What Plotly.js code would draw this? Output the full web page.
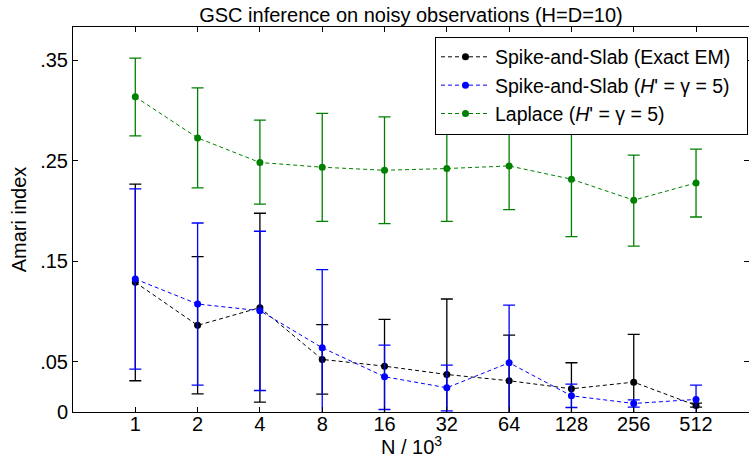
<!DOCTYPE html>
<html>
<head>
<meta charset="utf-8">
<script src="https://cdn.plot.ly/plotly-3.0.1.min.js"></script>
<style>html,body{margin:0;padding:0;background:#fff;}#chart{width:749px;height:454px;}</style>
</head>
<body>
<div id="chart"></div>
<script>
// Category labels (N / 10^3)
var nLabels = ['1', '2', '4', '8', '16', '32', '64', '128', '256', '512'];

// Spike-and-Slab (Exact EM)
var exactMean  = [0.129, 0.0862, 0.1038, 0.0523, 0.0456, 0.0373, 0.0311, 0.0231, 0.0297, 0.0065];
var exactUpper = [0.2266, 0.1546, 0.1977, 0.0869, 0.0921, 0.1124, 0.0765, 0.0490, 0.0772, 0.0088];
var exactLower = [0.0311, 0.0181, 0.0098, 0.0177, -0.001, -0.038, -0.014, -0.003, -0.018, 0.0048];

// Spike-and-Slab (H' = gamma = 5)
var gscMean  = [0.1323, 0.1074, 0.1008, 0.0639, 0.0351, 0.0241, 0.0490, 0.0161, 0.0085, 0.0125];
var gscUpper = [0.2220, 0.1880, 0.1798, 0.1416, 0.0665, 0.0466, 0.1064, 0.0277, 0.0121, 0.0267];
var gscLower = [0.0427, 0.0267, 0.0214, -0.014, 0.0025, 0.0012, -0.008, 0.0045, 0.0048, -0.0012];

// Laplace (H' = gamma = 5)
var lapMean  = [0.3135, 0.2727, 0.2482, 0.2435, 0.2405, 0.2422, 0.2448, 0.2316, 0.2107, 0.2279];
var lapUpper = [0.3520, 0.3225, 0.2903, 0.2970, 0.2936, 0.2946, 0.2886, 0.2896, 0.2555, 0.2615];
var lapLower = [0.2747, 0.2229, 0.2067, 0.1897, 0.1874, 0.1897, 0.2014, 0.1745, 0.1651, 0.1940];

// Y tick labels
var yTickVals = [0, 0.05, 0.15, 0.25, 0.35];
var yTickText = ['0', '.05', '.15', '.25', '.35'];

var xIdx = nLabels.map(function (_, i) { return i; });

function mk(name, mean, up, lo, color) {
  return {
    type: 'scatter', mode: 'lines+markers', name: name,
    x: xIdx, y: mean,
    line: {color: color, width: 1, dash: '4px,3px'},
    marker: {color: color, size: 7},
    error_y: {
      type: 'data', symmetric: false,
      array: up.map(function (u, i) { return u - mean[i]; }),
      arrayminus: lo.map(function (l, i) { return mean[i] - l; }),
      color: color, thickness: 1.3, width: 6
    }
  };
}

var traces = [
  mk('Spike-and-Slab (Exact EM)\u00a0\u00a0', exactMean, exactUpper, exactLower, '#000000'),
  mk("Spike-and-Slab (<i>H</i>' = \u03b3 = 5)", gscMean, gscUpper, gscLower, '#0000ff'),
  mk("Laplace (<i>H</i>' = \u03b3 = 5)", lapMean, lapUpper, lapLower, '#008000')
];

var FONT = 'Liberation Sans, Arial, Helvetica, sans-serif';

var layout = {
  width: 749, height: 454,
  margin: {l: 73, r: 0, t: 27, b: 42, pad: 0},
  paper_bgcolor: '#ffffff', plot_bgcolor: '#ffffff',
  font: {family: FONT, size: 20, color: '#000'},
  showlegend: true,
  title: {
    text: 'GSC inference on noisy observations (H=D=10)',
    font: {family: FONT, size: 20, color: '#000'},
    x: 0.5, xref: 'paper', xanchor: 'center',
    y: 1 - 15 / 454, yref: 'container', yanchor: 'middle'
  },
  xaxis: {
    range: [-1, 9.85],
    tickmode: 'array', tickvals: xIdx, ticktext: nLabels,
    ticks: 'inside', ticklen: 5, tickcolor: '#000', tickwidth: 1,
    ticklabelstandoff: -6,
    showline: true, linecolor: '#000', linewidth: 1, mirror: 'ticks',
    showgrid: false, zeroline: false,
    tickfont: {family: FONT, size: 20, color: '#000'}
  },
  yaxis: {
    range: [0, 0.383],
    tickmode: 'array', tickvals: yTickVals, ticktext: yTickText,
    ticks: 'inside', ticklen: 5, tickcolor: '#000', tickwidth: 1,
    showline: true, linecolor: '#000', linewidth: 1, mirror: 'ticks',
    showgrid: false, zeroline: false,
    tickfont: {family: FONT, size: 20, color: '#000'},
    title: {text: 'Amari index', font: {family: FONT, size: 20, color: '#000'}, standoff: 8}
  },
  annotations: [{
    text: 'N / 10<sup>3</sup>', showarrow: false,
    xref: 'paper', x: 0.5, xanchor: 'center',
    yref: 'paper', y: -33 / 384.7, yanchor: 'middle',
    font: {family: FONT, size: 20, color: '#000'}
  }],
  legend: {
    x: 0.9985, xanchor: 'right', y: 0.975, yanchor: 'top',
    bgcolor: '#ffffff', bordercolor: '#000', borderwidth: 1,
    font: {family: FONT, size: 19.5, color: '#000'},
    tracegroupgap: 0, itemwidth: 49
  }
};

Plotly.newPlot('chart', traces, layout, {displayModeBar: false, staticPlot: true});
</script>
</body>
</html>
